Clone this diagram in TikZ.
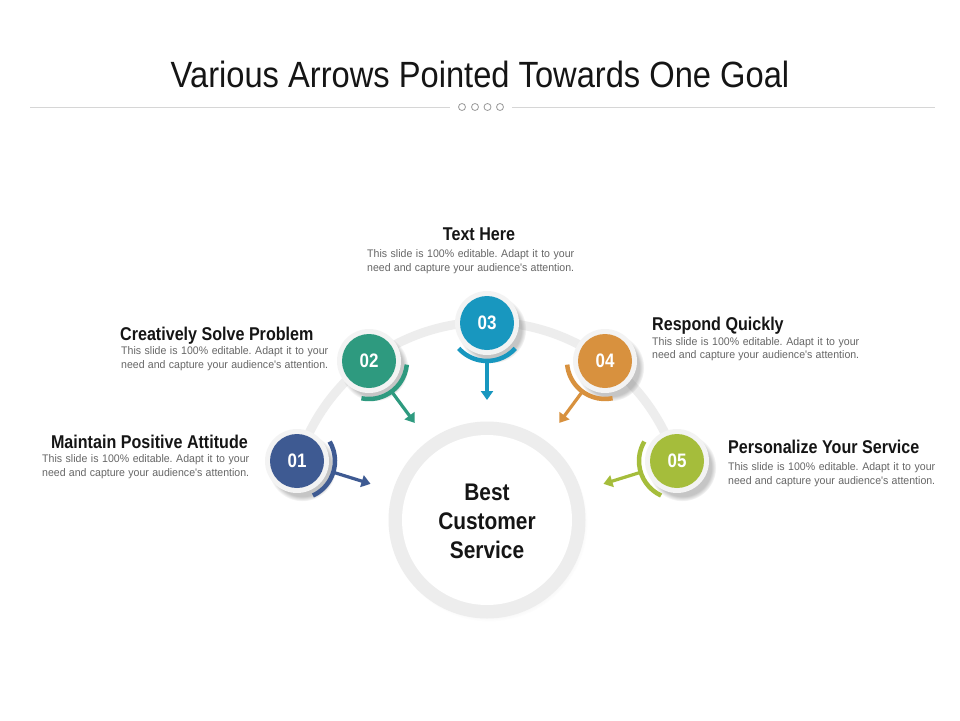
\documentclass[tikz,border=0pt]{standalone}
\usepackage{fontspec}
\setmainfont{Liberation Sans}
\newfontfamily\condf[FakeStretch=0.87]{Liberation Sans}
\newfontfamily\titlef[FakeStretch=0.895]{Liberation Sans}
\newfontfamily\bodyf[FakeStretch=0.96]{Liberation Sans}
\usetikzlibrary{arrows.meta,shadows,calc}
\frenchspacing
\definecolor{cA}{HTML}{3E5A92}
\definecolor{cB}{HTML}{2E9A7F}
\definecolor{cC}{HTML}{1897BF}
\definecolor{cD}{HTML}{D8913E}
\definecolor{cE}{HTML}{A5BD3B}
\definecolor{ringgray}{HTML}{EDEDED}
\definecolor{ringlight}{HTML}{F3F3F3}
\definecolor{divgray}{HTML}{D6D6D6}
\definecolor{dotgray}{HTML}{9A9A9A}
\definecolor{headc}{HTML}{151515}
\definecolor{bodyc}{HTML}{666666}
\newcommand\bline[1]{\makebox[207pt][s]{#1}}
\tikzset{
  head/.style={inner sep=0pt, text=headc, font=\condf\bfseries\fontsize{18.5}{20}\selectfont},
  body/.style={inner sep=0pt, text=bodyc, font=\bodyf\fontsize{11}{13}\selectfont},
  ringnode/.style={circle, fill=ringlight, minimum size=64pt, inner sep=0pt,
    circular drop shadow={shadow xshift=5pt, shadow yshift=-6pt, opacity=0.45, shadow scale=1.06}},
  numnode/.style={circle, minimum size=54pt, inner sep=0pt, text=white,
    font=\condf\bfseries\fontsize{19.5}{20}\selectfont},
  sidearc/.style={line width=4.5pt},
  pointer/.style={line width=3.2pt, -{Triangle[width=12pt,length=9pt]}},
  centertxt/.style={inner sep=0pt, text=headc, font=\condf\bfseries\fontsize{24}{26}\selectfont, anchor=base},
}
\begin{document}
\begin{tikzpicture}[x=1pt,y=-1pt]
\useasboundingbox (0,0) rectangle (960,720);
\fill[white] (0,0) rectangle (960,720);
% title
\node[anchor=base, inner sep=0pt, text=headc, font=\titlef\fontsize{36.5}{40}\selectfont] (title) at (480,87) {Various Arrows Pointed Towards One Goal};
% divider
\foreach \i/\x in {1/462,2/475,3/487.5,4/500}
  \node[circle, draw=dotgray, line width=0.8pt, minimum size=7pt, inner sep=0pt] (dot\i) at (\x,107) {};
\coordinate (divL) at (30,107);
\coordinate (divR) at (935,107);
\draw[divgray, line width=1pt] (divL) -- ($(dot1.west)+(-8,0)$);
\draw[divgray, line width=1pt] ($(dot4.east)+(8,0)$) -- (divR);
% big arc
\coordinate (C0) at (487,520);
\draw[ringgray, line width=9pt] ($(C0)+(-162.75:198)$) arc[start angle=-162.75, end angle=-17.25, radius=198];
% centre circle
\node[circle, fill=ringgray, minimum size=197pt, inner sep=0pt,
  circular drop shadow={shadow xshift=2pt, shadow yshift=-3pt, opacity=0.15, shadow scale=1.0}] (Cout) at (C0) {};
\node[circle, fill=white, minimum size=170pt, inner sep=0pt] (Cin) at (C0) {};
\node[centertxt] (ct1) at (487,500) {Best};
\node[centertxt] (ct2) at (487,529) {Customer};
\node[centertxt] (ct3) at (487,558) {Service};
% small circles
\foreach \n/\x/\y/\a/\col/\lab in {1/297/461/17.25/cA/01, 2/369/361/53.5/cB/02, 3/487/323/90/cC/03, 4/605/361/126.5/cD/04, 5/677/461/162.75/cE/05}{
  \node[ringnode] (r\n) at (\x,\y) {};
  \node[numnode, fill=\col] (n\n) at (r\n) {\lab};
  \draw[sidearc, \col] ($(n\n.center)+(\a-48:38)$) arc[start angle=\a-48, end angle=\a+48, radius=38];
  \coordinate (s\n) at ($(n\n.center)+(\a:38)$);
  \coordinate (e\n) at ($(n\n.center)+(\a:77)$);
  \draw[pointer, \col] (s\n) -- (e\n);
}
% texts
\node[head, anchor=base] (h3) at (479,240) {Text Here};
\node[body, anchor=base west] (b3a) at (367,257) {\bline{This slide is 100\% editable. Adapt it to your}};
\node[body, anchor=base west] (b3b) at (367,271) {\bline{need and capture your audience's attention.}};

\node[head, anchor=base west] (h2) at (120,340) {Creatively Solve Problem};
\node[body, anchor=base west] (b2a) at (121,354) {\bline{This slide is 100\% editable. Adapt it to your}};
\node[body, anchor=base west] (b2b) at (121,368) {\bline{need and capture your audience's attention.}};

\node[head, anchor=base east] (h1) at (248,448) {Maintain Positive Attitude};
\node[body, anchor=base west] (b1a) at (42,462) {\bline{This slide is 100\% editable. Adapt it to your}};
\node[body, anchor=base west] (b1b) at (42,476) {\bline{need and capture your audience's attention.}};

\node[head, anchor=base west] (h4) at (652,330) {Respond Quickly};
\node[body, anchor=base west] (b4a) at (652,345) {\bline{This slide is 100\% editable. Adapt it to your}};
\node[body, anchor=base west] (b4b) at (652,358) {\bline{need and capture your audience's attention.}};

\node[head, anchor=base west] (h5) at (728,453) {Personalize Your Service};
\node[body, anchor=base west] (b5a) at (728,470) {\bline{This slide is 100\% editable. Adapt it to your}};
\node[body, anchor=base west] (b5b) at (728,484) {\bline{need and capture your audience's attention.}};
\end{tikzpicture}
\end{document}
